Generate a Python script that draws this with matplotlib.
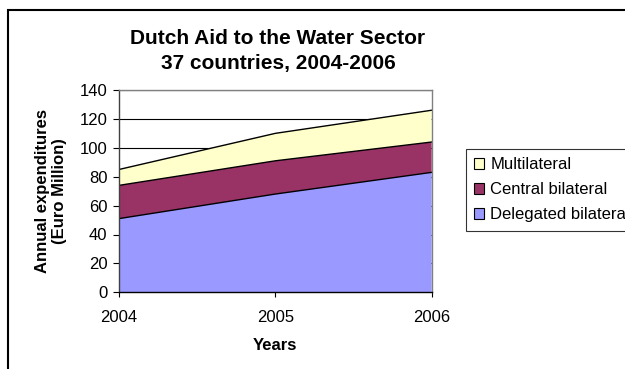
import numpy as np
import matplotlib
matplotlib.use('Agg')
import matplotlib.pyplot as plt
from matplotlib.patches import Patch, Rectangle

plt.rcParams['font.family'] = ['Liberation Sans', 'DejaVu Sans']

# data (Euro million)
years = [2004, 2005, 2006]
delegated = [51, 68, 83]
central = [23, 23, 21]
multilateral = [11, 19, 22]
series_names = ['Delegated bilateral', 'Central bilateral', 'Multilateral']
series_colors = ['#9999FF', '#993366', '#FFFFCC']
yticks = [0, 20, 40, 60, 80, 100, 120, 140]

W, H = 625, 369
fig = plt.figure(figsize=(W / 100, H / 100), dpi=100)
fig.patch.set_facecolor('white')

# outer chart border (continues past right / bottom edge like the cropped original)
fig.patches.append(Rectangle((8 / W, -0.2), 2.0, (H - 10) / H + 0.2,
                             transform=fig.transFigure, fill=False,
                             edgecolor='black', linewidth=1.5))

ax = fig.add_axes([119 / W, 1 - 292.3 / H, (431.7 - 119) / W, (292.3 - 90) / H])

lower = np.zeros(len(years))
for vals, col in zip([delegated, central, multilateral], series_colors):
    upper = lower + np.array(vals)
    ax.fill_between(years, lower, upper, facecolor=col, edgecolor='none', zorder=2)
    ax.plot(years, upper, color='black', linewidth=1.0, zorder=3)
    lower = upper

ax.set_xlim(2004, 2006)
ax.set_ylim(0, 140)
ax.set_xticks(years)
ax.set_xticklabels([str(y) for y in years])
ax.set_yticks(yticks)
ax.yaxis.grid(True, color='black', linewidth=0.8, zorder=1)
ax.set_axisbelow(True)

ax.tick_params(axis='both', labelsize=12, direction='out', color='black', width=0.8)
ax.tick_params(axis='x', length=3.6, pad=9)
ax.tick_params(axis='y', length=4.3, pad=4)

ax.spines['left'].set_color('#404040')
ax.spines['bottom'].set_color('black')
ax.spines['top'].set_color('#808080')
ax.spines['right'].set_color('#808080')
for s in ax.spines.values():
    s.set_linewidth(1.0)
    s.set_zorder(4)

fig.text(275 / W, 1 - 346 / H, 'Years', ha='center', va='center',
         fontsize=12, fontweight='bold')
fig.text(51 / W, 1 - 191 / H, 'Annual expenditures\n(Euro Million)', rotation=90,
         ha='center', va='center', fontsize=12, fontweight='bold', linespacing=1.2)

fig.text(278 / W, 1 - 39 / H, 'Dutch Aid to the Water Sector', ha='center', va='center',
         fontsize=15, fontweight='bold')
fig.text(278 / W, 1 - 64 / H, '37 countries, 2004-2006', ha='center', va='center',
         fontsize=15, fontweight='bold')

handles = [Patch(facecolor=c, edgecolor='black', linewidth=0.8) for c in series_colors]
leg = fig.legend(handles[::-1], series_names[::-1], loc='upper left',
                 bbox_to_anchor=(466 / W, 1 - 149 / H), fontsize=12,
                 frameon=True, fancybox=False, handlelength=0.6, handleheight=0.6,
                 handletextpad=0.35, labelspacing=0.6, borderpad=0.5, borderaxespad=0)
leg.get_frame().set_edgecolor('black')
leg.get_frame().set_linewidth(0.8)

fig.savefig('out.png', dpi=100)
